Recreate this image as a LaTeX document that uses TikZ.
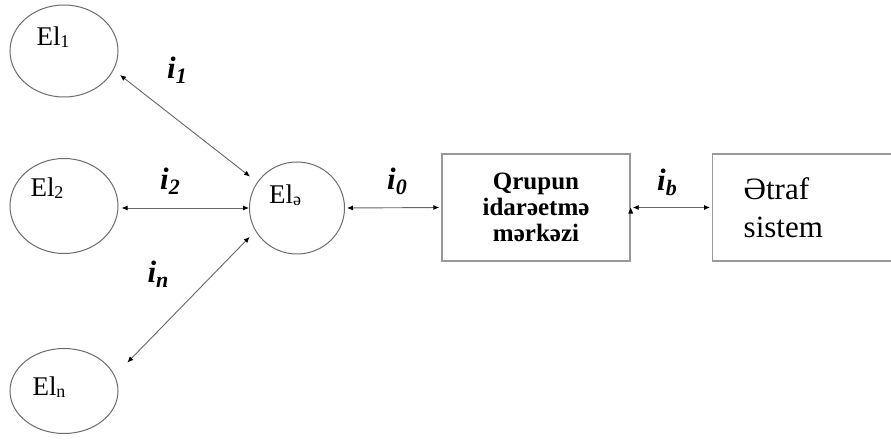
\documentclass[tikz,border=0pt]{standalone}
\usepackage{fontspec}
\setmainfont{Liberation Serif}
\usetikzlibrary{shapes.geometric,arrows.meta,positioning}
\newcommand{\altel}[1]{\raisebox{-2pt}{\fontsize{18}{18}\selectfont #1}}
\newcommand{\alti}[1]{\raisebox{-5pt}{\fontsize{22}{22}\selectfont #1}}

\begin{document}
\begin{tikzpicture}[x=1pt,y=-1pt,
    elips/.style={draw=gray!85!black, line width=1pt, ellipse, minimum width=108pt},
    blok/.style={draw=gray!80, line width=1.4pt, rectangle},
    axin/.style={draw=gray!80!black, line width=0.9pt,
      {Latex[length=6pt,width=5pt,black]}-{Latex[length=6pt,width=5pt,black]}},
    isar/.style={font=\fontsize{31}{31}\selectfont\bfseries\itshape},
    ad/.style={font=\fontsize{27}{27}\selectfont}]
    \clip (0,0) rectangle (891,443);
    \fill[white] (0,0) rectangle (891,443);
    \node[elips, minimum height=92pt,
      label={[ad,xshift=-11pt,yshift=14pt]center:El\altel{1}}] (el_1) at (64,51) {};
    \node[elips, minimum height=95pt,
      label={[ad,xshift=-17pt,yshift=18pt]center:El\altel{2}}] (el_2) at (64,206) {};
    \node[elips, minimum height=85pt,
      label={[ad,xshift=-15pt,yshift=4pt]center:El\altel{n}}] (el_n) at (64,391) {};
    \node[elips, minimum width=95pt, minimum height=92pt,
      label={[ad,xshift=-12pt,yshift=13pt]center:El\altel{ə}}] (el_e) at (297,208) {};
    \node[blok, minimum width=188pt, minimum height=107pt, align=center,
      font=\fontsize{25}{26}\selectfont\bfseries] (mrk) at (536,207.5) {Qrupun\\idarəetmə\\mərkəzi};
    \node[blok, anchor=west, minimum width=250pt, minimum height=107pt, text width=200pt,
      inner xsep=31pt, align=left, font=\fontsize{31}{38}\selectfont] (etraf) at (712,207.5) {Ətraf\\sistem};
    \node[isar] (i_1) at (177,70)  {i\alti{1}};
    \node[isar] (i_2) at (170,181) {i\alti{2}};
    \node[isar] (i_n) at (158,274) {i\alti{n}};
    \node[isar] (i_0) at (397,181) {i\alti{0}};
    \node[isar] (i_b) at (667,182) {i\alti{b}};
      \path[axin]
        (el_1.-21) edge[shorten <=8pt, shorten >=9pt] (el_e.147)
        (el_2.east |- el_e.west) edge[shorten <=3pt] (el_e.west)
        (el_n.17) edge[shorten <=18pt, shorten >=8pt] (el_e.209)
        (el_e.east) edge[shorten <=2pt, shorten >=2pt] (mrk.west)
        (mrk.east) edge[shorten <=2pt, shorten >=2pt] (etraf.west);
\end{tikzpicture}
\end{document}
